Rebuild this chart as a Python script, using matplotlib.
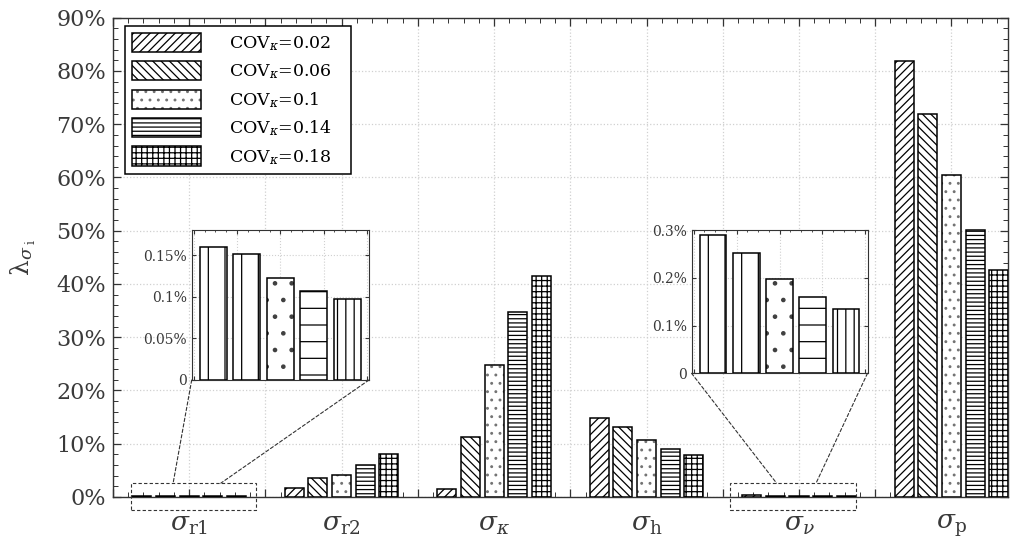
import matplotlib
matplotlib.use('Agg')
import matplotlib.pyplot as plt
import numpy as np
from matplotlib.patches import Rectangle, ConnectionPatch
from matplotlib.ticker import MultipleLocator, FixedLocator, FuncFormatter

# ---------------- data ----------------
categories = [r'$\sigma_{\mathrm{r1}}$', r'$\sigma_{\mathrm{r2}}$', r'$\sigma_{\kappa}$',
              r'$\sigma_{\mathrm{h}}$', r'$\sigma_{\nu}$', r'$\sigma_{\mathrm{p}}$']
cov_labels = ['0.02', '0.06', '0.1', '0.14', '0.18']
# lambda values in percent, one list per COV level (order of categories)
cov_002 = [0.160, 1.6, 1.5, 14.8, 0.289, 81.9]
cov_006 = [0.151, 3.6, 11.2, 13.2, 0.251, 71.9]
cov_010 = [0.122, 4.2, 24.8, 10.7, 0.198, 60.5]
cov_014 = [0.107, 6.1, 34.8, 9.0, 0.160, 50.2]
cov_018 = [0.097, 8.0, 41.5, 7.9, 0.135, 42.6]
series = [cov_002, cov_006, cov_010, cov_014, cov_018]
y_ticks_main = [0, 10, 20, 30, 40, 50, 60, 70, 80, 90]
y_ticks_in1 = [0, 0.05, 0.1, 0.15]
y_ticks_in2 = [0, 0.1, 0.2, 0.3]

# ---------------- style ----------------
plt.rcParams['font.family'] = ['DejaVu Serif']
plt.rcParams['mathtext.fontset'] = 'dejavuserif'
plt.rcParams['hatch.linewidth'] = 0.9
TXT = '#3a3a3a'
SP = '#333333'

hatches_main = ['////', '\\\\\\\\', '..', '----', '+++']
hatches_in = ['|', '|', '.', '-', '||']


def soften_dots(container, j, shade):
    if j == 2:
        for p in container.patches:
            try:
                p._hatch_color = (shade, shade, shade, 1.0)
            except Exception:
                pass


fig = plt.figure(figsize=(10.17, 5.44), dpi=100)
ax = fig.add_axes([0.111, 0.0864, 0.880, 0.881])

x = np.arange(1, len(categories) + 1)
width = 0.125
step = 0.155
offsets = [(j - 2) * step for j in range(5)]

for j, vals in enumerate(series):
    bc = ax.bar(x + offsets[j], vals, width, facecolor='white', edgecolor='black',
                linewidth=1.1, hatch=hatches_main[j],
                label=r'COV$_{\kappa}$=' + cov_labels[j] + '   ', zorder=3)
    soften_dots(bc, j, 0.45)

ax.set_xlim(0.5, 6.37)
ax.set_ylim(0, 90)
xt = np.arange(0.5, 6.51, 0.5)
ax.xaxis.set_major_locator(FixedLocator(xt))
ax.set_xticklabels([categories[int(t) - 1] if float(t).is_integer() else '' for t in xt])
ax.xaxis.set_minor_locator(MultipleLocator(0.1))
ax.yaxis.set_major_locator(FixedLocator(y_ticks_main))
ax.yaxis.set_major_formatter(FuncFormatter(lambda v, p: f'{v:.0f}%'))
ax.yaxis.set_minor_locator(MultipleLocator(2))
ax.tick_params(which='both', direction='in', top=True, right=True, colors=SP,
               labelcolor=TXT)
ax.tick_params(which='major', length=6, width=0.9)
ax.tick_params(which='minor', length=3.5, width=0.7)
ax.tick_params(axis='y', labelsize=16, pad=5)
ax.tick_params(axis='x', labelsize=19, pad=11)
for s in ax.spines.values():
    s.set_color(SP)
    s.set_linewidth(1.0)
ax.grid(True, which='major', linestyle=':', color='#d0d0d0', linewidth=0.9, zorder=0)
ax.set_axisbelow(True)
ax.set_ylabel(r'λ$_{\sigma_{\ \mathrm{i}}}$', fontsize=18, color=TXT, labelpad=13)

leg = ax.legend(loc='upper left', bbox_to_anchor=(0.0134, 0.983), borderaxespad=0,
                fontsize=12.5, frameon=True, fancybox=False, framealpha=1,
                edgecolor='black', handlelength=4.0, handleheight=1.32,
                labelspacing=0.48, handletextpad=1.6, borderpad=0.4)
leg.get_frame().set_linewidth(1.1)
for t in leg.get_texts():
    t.set_color('black')

# ---------------- zoom rectangles and insets ----------------
def make_inset(rect_fig, ci, ylim, yticks, rect_x, conn_x):
    ia = fig.add_axes(rect_fig)
    for j, vals in enumerate(series):
        bc = ia.bar(x[ci] + offsets[j], vals[ci], width, facecolor='white', edgecolor='black',
                    linewidth=1.1, hatch=hatches_in[j], zorder=3)
        soften_dots(bc, j, 0.25)
    ia.set_xlim(x[ci] - 0.41, x[ci] + 0.41)
    ia.set_ylim(*ylim)
    ia.yaxis.set_major_locator(FixedLocator(yticks))
    ia.yaxis.set_major_formatter(FuncFormatter(lambda v, p: '0' if v == 0 else f'{v:g}%'))
    ia.xaxis.set_major_locator(MultipleLocator(0.2))
    ia.xaxis.set_minor_locator(MultipleLocator(0.05))
    ia.set_xticklabels([])
    ia.tick_params(which='both', direction='in', top=True, right=True, colors=SP,
                   labelcolor=TXT, labelsize=10)
    ia.tick_params(which='major', length=3)
    ia.tick_params(which='minor', length=1.5)
    ia.grid(True, which='major', linestyle=':', color='#d0d0d0', linewidth=0.8, zorder=0)
    ia.set_axisbelow(True)
    for s in ia.spines.values():
        s.set_color(SP)
    r = Rectangle((rect_x[0], -2.4), rect_x[1] - rect_x[0], 5.0, fill=False,
                  linestyle=(0, (3, 2)), linewidth=0.8, edgecolor='#333333',
                  clip_on=False, zorder=5)
    ax.add_patch(r)
    for (xa, xd) in zip([0, 1], conn_x):
        cp = ConnectionPatch(xyA=(xa, 0), coordsA=ia.transAxes, xyB=(xd, 2.6),
                             coordsB=ax.transData, linestyle=(0, (3, 2)),
                             linewidth=0.8, color='#333333')
        fig.add_artist(cp)
    return ia

make_inset([0.1885, 0.3015, 0.1743, 0.2757], 0, (0, 0.18), y_ticks_in1,
           (0.62, 1.44), (0.895, 1.208))
make_inset([0.680, 0.3138, 0.173, 0.2634], 4, (0, 0.30), y_ticks_in2,
           (4.547, 5.373), (4.853, 5.112))

fig.savefig('out.png', dpi=100)
